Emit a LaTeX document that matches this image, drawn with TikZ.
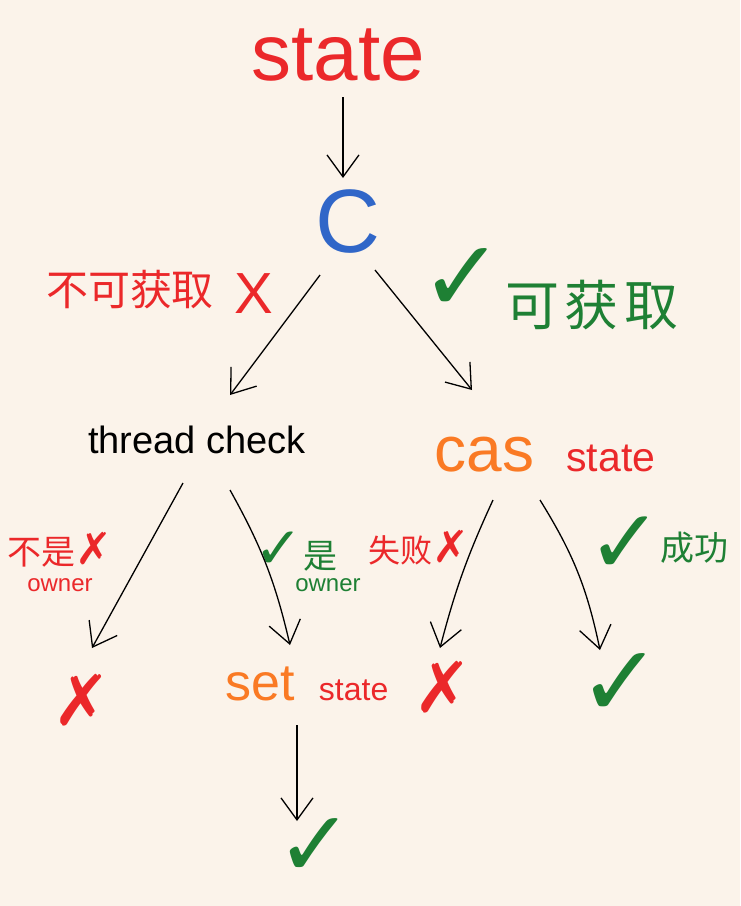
\documentclass[tikz,border=0pt]{standalone}
\usepackage{fontspec}
\setmainfont{Liberation Sans}
\newfontfamily\cjk{Noto Sans CJK SC}
\newfontfamily\symf{DejaVu Sans}
\usetikzlibrary{arrows.meta,positioning}

\definecolor{paper}{RGB}{251,243,234}
\definecolor{penred}{RGB}{235,40,42}
\definecolor{pengreen}{RGB}{30,128,52}
\definecolor{penorange}{RGB}{250,122,36}
\definecolor{penblue}{RGB}{48,102,200}
\newcommand{\fsz}[1]{\fontsize{#1}{#1}\selectfont}
\newcommand{\okmark}{{\symf ✓}}
\newcommand{\nomark}{{\symf ✗}}

\tikzset{
  lbl/.style={inner sep=0pt, outer sep=0pt},
  flow/.style={-{Straight Barb[length=22pt,width=32pt,line width=1.3pt]}, line width=1.3pt, black},
}

\begin{document}
\begin{tikzpicture}[x=1pt, y=-1pt]
                    \fill[paper] (0,0) rectangle (740,906);

                    % top of the tree
                    \node[lbl, penred, font=\fsz{80}] (state) at (338,55) {state};
                    \node[lbl, penblue, font=\fsz{90}] (c) at (348,222) {C};
                    \node[lbl, penred, font=\cjk\fsz{42}] (nogo) at (130,290) {不可获取};
                    \node[lbl, penred, font=\fsz{58}] (nogox) at (254,294) {X};
                    \node[lbl, pengreen, font=\fsz{100}] (gook) at (462,280) {\okmark};
                    \node[lbl, pengreen, font=\cjk\fsz{54}] (go) at (592,305) {可\hspace{6pt}获\hspace{6pt}取};

                    % second row
                    \node[lbl, font=\fsz{38}] (thread) at (197,440) {thread check};
                    \node[lbl] (cas) at (545,455)
                        {\fsz{64}\color{penorange}cas\hspace{32pt}\fsz{41}\color{penred}state};

                    % branch labels
                    \node[lbl, penred, font=\cjk\fsz{34}] (notowner) at (60,550) {不是{\fsz{44}\nomark}};
                    \node[lbl, penred, font=\fsz{24}] (notownerb) at (60,585) {owner};
                    \node[lbl, pengreen, font=\cjk\fsz{34}] (isowner) at (296,552) {{\fsz{58}\okmark}是};
                    \node[lbl, pengreen, font=\fsz{24}] (isownerb) at (328,585) {owner};
                    \node[lbl, penred, font=\cjk\fsz{32}] (fail) at (419,548) {失败{\fsz{44}\nomark}};
                    \node[lbl, pengreen, font=\fsz{90}] (winok) at (625,545) {\okmark};
                    \node[lbl, pengreen, font=\cjk\fsz{34}] (win) at (694,548) {成功};

                    % results
                    \node[lbl, penred, font=\fsz{70}] (xleft) at (82,700) {\nomark};
                    \node[lbl] (setstate) at (307,684)
                        {\fsz{52}\color{penorange}set\hspace{24pt}\fsz{32}\color{penred}state};
                    \node[lbl, penred, font=\fsz{70}] (xmid) at (443,687) {\nomark};
                    \node[lbl, pengreen, font=\fsz{100}] (okright) at (620,685) {\okmark};
                    \node[lbl, pengreen, font=\fsz{92}] (okfinal) at (315,848) {\okmark};

                    % arrows
                    \draw[flow] ([shift={(5,42)}]state.center) -- ([shift={(-5,-44)}]c.center);
                    \draw[flow] ([shift={(-28,53)}]c.center) -- ([shift={(33,-45)}]thread.center);
                    \draw[flow] ([shift={(27,48)}]c.center) -- ([shift={(-73,-65)}]cas.center);
                    \draw[flow] ([shift={(-14,43)}]thread.center) -- ([shift={(10,-52)}]xleft.center);
                    \draw[flow] ([shift={(33,50)}]thread.center) to[bend left=8] ([shift={(-17,-39)}]setstate.center);
                    \draw[flow] ([shift={(-52,45)}]cas.center) to[bend right=5] ([shift={(-3,-39)}]xmid.center);
                    \draw[flow] ([shift={(-5,45)}]cas.center) to[bend left=10] ([shift={(-20,-35)}]okright.center);
                    \draw[flow] ([shift={(-10,41)}]setstate.center) -- ([shift={(-18,-27)}]okfinal.center);
                \end{tikzpicture}
\end{document}
